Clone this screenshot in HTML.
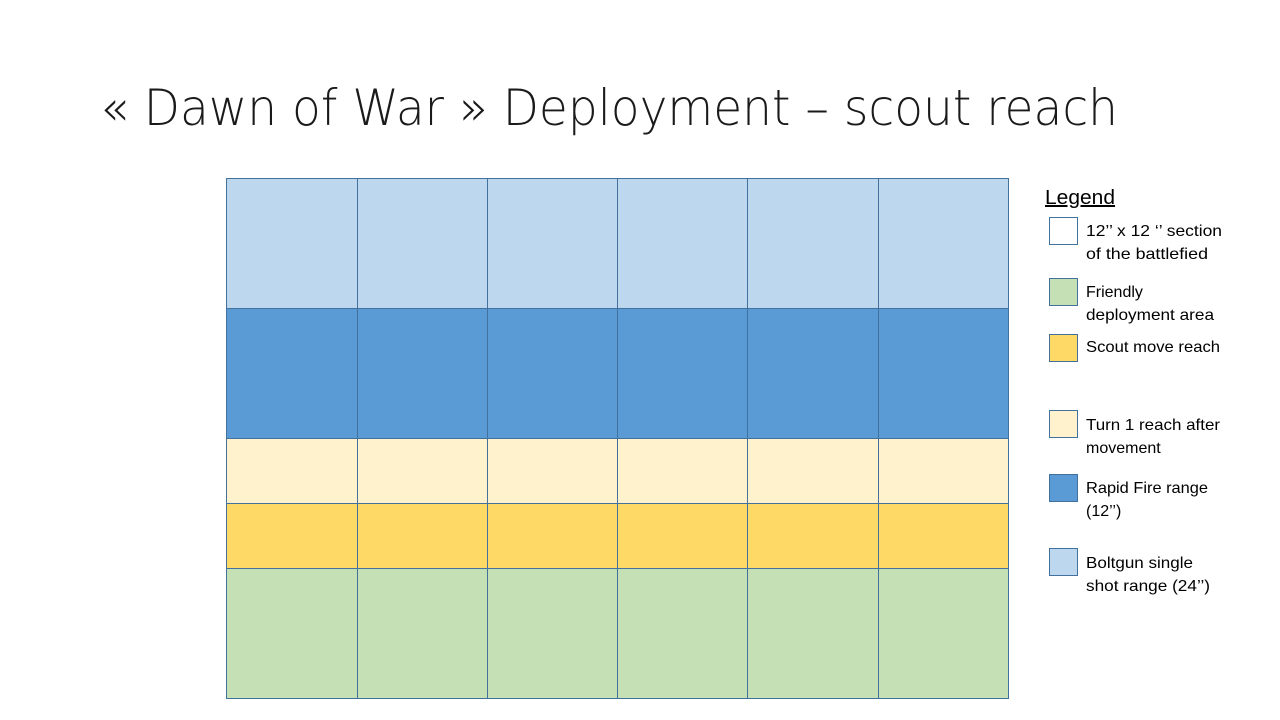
<!DOCTYPE html>
<html><head><meta charset="utf-8"><style>html,body{margin:0;padding:0;background:#fff;width:1280px;height:720px;overflow:hidden}</style></head>
<body>
<svg width="1280" height="720" xmlns="http://www.w3.org/2000/svg" font-family="Liberation Sans, sans-serif">
<text x="100" y="125" font-size="50" font-family="DejaVu Sans, Liberation Sans, sans-serif" font-weight="200" fill="#1a1a1a" textLength="1018" lengthAdjust="spacingAndGlyphs">« Dawn of War » Deployment – scout reach</text>
<g stroke="#41719c" stroke-width="1">
<rect x="226.5" y="178.5" width="782" height="130" fill="#bdd7ee"/>
<rect x="226.5" y="308.5" width="782" height="130" fill="#5b9bd5"/>
<rect x="226.5" y="438.5" width="782" height="65" fill="#fff2cc"/>
<rect x="226.5" y="503.5" width="782" height="65" fill="#ffd966"/>
<rect x="226.5" y="568.5" width="782" height="130" fill="#c5e0b4"/>
<path d="M357.5 178V699M487.5 178V699M617.5 178V699M747.5 178V699M878.5 178V699M226 308.5H1009M226 438.5H1009M226 503.5H1009M226 568.5H1009" fill="none"/>
</g>
<text x="1045" y="204" font-size="20" fill="#000" text-decoration="underline" textLength="70" lengthAdjust="spacingAndGlyphs">Legend</text>
<g stroke="#41719c" stroke-width="1">
<rect x="1049.5" y="217.5" width="28" height="27" fill="#fff"/>
<rect x="1049.5" y="278.5" width="28" height="27" fill="#c5e0b4"/>
<rect x="1049.5" y="334.5" width="28" height="27" fill="#ffd966"/>
<rect x="1049.5" y="410.5" width="28" height="27" fill="#fff2cc"/>
<rect x="1049.5" y="474.5" width="28" height="27" fill="#5b9bd5"/>
<rect x="1049.5" y="548.5" width="28" height="27" fill="#bdd7ee"/>
</g>
<g font-size="16" fill="#000">
<text x="1086" y="236" textLength="136" lengthAdjust="spacingAndGlyphs">12’’ x 12 ‘’ section</text>
<text x="1086" y="259" textLength="122" lengthAdjust="spacingAndGlyphs">of the battlefied</text>
<text x="1086" y="297">Friendly</text>
<text x="1086" y="320" textLength="128" lengthAdjust="spacingAndGlyphs">deployment area</text>
<text x="1086" y="352" textLength="134" lengthAdjust="spacingAndGlyphs">Scout move reach</text>
<text x="1086" y="430" textLength="134" lengthAdjust="spacingAndGlyphs">Turn 1 reach after</text>
<text x="1086" y="453">movement</text>
<text x="1086" y="493" textLength="122" lengthAdjust="spacingAndGlyphs">Rapid Fire range</text>
<text x="1086" y="516">(12’’)</text>
<text x="1086" y="568" textLength="107" lengthAdjust="spacingAndGlyphs">Boltgun single</text>
<text x="1086" y="591" textLength="124" lengthAdjust="spacingAndGlyphs">shot range (24’’)</text>
</g>
</svg>
</body></html>
